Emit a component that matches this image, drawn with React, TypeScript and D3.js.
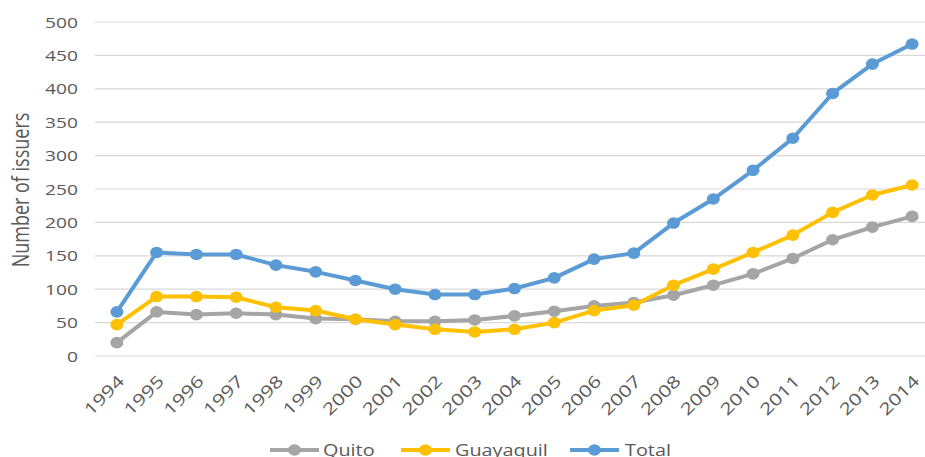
import * as d3 from 'd3';

const years = [
  '1994', '1995', '1996', '1997', '1998', '1999', '2000', '2001', '2002', '2003', '2004',
  '2005', '2006', '2007', '2008', '2009', '2010', '2011', '2012', '2013', '2014',
];
const quito = [20, 66, 62, 64, 62, 56, 55, 52, 52, 54, 60, 67, 75, 80, 91, 106, 123, 146, 174, 193, 209];
const guayaquil = [47, 89, 89, 88, 73, 68, 55, 47, 40, 36, 40, 50, 68, 76, 106, 130, 155, 181, 215, 241, 256];
const total = [66, 155, 152, 152, 136, 126, 113, 100, 92, 92, 101, 117, 145, 154, 199, 235, 278, 326, 393, 437, 467];
const yTicks = [0, 50, 100, 150, 200, 250, 300, 350, 400, 450, 500];

const series = [
  { name: 'Quito', values: quito, color: '#A5A5A5' },
  { name: 'Guayaquil', values: guayaquil, color: '#FFC000' },
  { name: 'Total', values: total, color: '#5B9BD5' },
];

const W = 925;
const H = 457;
const FONT = "'Open Sans', sans-serif";
const TXT = '#595959';
// the source picture is stretched sideways, so text is widened a little
const SX = 1.28;

export default function App() {
  const x = d3.scalePoint<string>().domain(years).range([97, 932]).padding(0.5);
  const y = d3.scaleLinear().domain([0, 500]).range([356, 22]);

  const line = d3
    .line<number>()
    .x((_, i) => x(years[i]) as number)
    .y((d) => y(d));

  const legend = [
    { x0: 270, textX: 323 },
    { x0: 401, textX: 455 },
    { x0: 570, textX: 625 },
  ];

  return (
    <svg
      width={W}
      height={H}
      style={{ position: 'absolute', left: 0, top: 0, background: '#fff' }}
      fontFamily={FONT}
    >
      {/* gridlines */}
      {yTicks.map((t) => (
        <line key={t} x1={95} x2={W} y1={y(t)} y2={y(t)} stroke="#D9D9D9" strokeWidth={1.2} />
      ))}

      {/* y tick labels */}
      {yTicks.map((t) => (
        <text
          key={'yl' + t}
          transform={`translate(78,${y(t)}) scale(${SX},1)`}
          textAnchor="end"
          dominantBaseline="central"
          fontSize={15}
          fill={TXT}
        >
          {t}
        </text>
      ))}

      {/* y axis title */}
      <text
        transform={`translate(20,190) rotate(-90) scale(1,${SX})`}
        textAnchor="middle"
        dominantBaseline="central"
        fontSize={18}
        fill={TXT}
      >
        Number of issuers
      </text>

      {/* x tick labels */}
      {years.map((yr) => (
        <text
          key={yr}
          transform={`translate(${(x(yr) as number) + 4},378) rotate(-45) scale(${SX},1)`}
          textAnchor="end"
          dominantBaseline="central"
          fontSize={16.5}
          fill={TXT}
        >
          {yr}
        </text>
      ))}

      {/* lines and markers */}
      {series.map((s) => (
        <g key={s.name}>
          <path d={line(s.values) ?? ''} fill="none" stroke={s.color} strokeWidth={4} strokeLinejoin="round" />
          {s.values.map((v, i) => (
            <ellipse key={i} cx={x(years[i]) as number} cy={y(v)} rx={6.5} ry={5.8} fill={s.color} />
          ))}
        </g>
      ))}

      {/* legend */}
      {series.map((s, i) => (
        <g key={'lg' + s.name}>
          <line x1={legend[i].x0} x2={legend[i].x0 + 49} y1={450} y2={450} stroke={s.color} strokeWidth={4} />
          <ellipse cx={legend[i].x0 + 24.5} cy={450} rx={6.5} ry={5.8} fill={s.color} />
          <text
            transform={`translate(${legend[i].textX},450) scale(${SX},1)`}
            dominantBaseline="central"
            fontSize={15.5}
            fill={TXT}
          >
            {s.name}
          </text>
        </g>
      ))}
    </svg>
  );
}
